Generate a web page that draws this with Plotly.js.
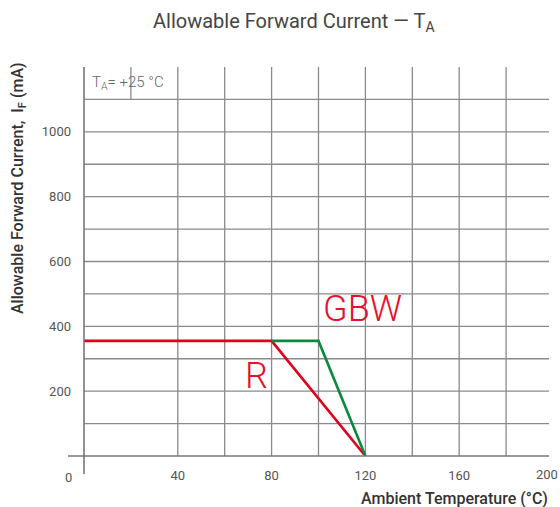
<!DOCTYPE html>
<html>
<head>
<meta charset="utf-8">
<script src="https://cdn.plot.ly/plotly-3.0.1.min.js"></script>
<style>html,body{margin:0;padding:0;background:#fff;}#chart{width:560px;height:507px;}</style>
</head>
<body>
<div id="chart"></div>
<script>
// Data
const tempR = [0, 80, 120];
const currR = [355, 355, 0];
const tempGBW = [80, 100, 120];
const currGBW = [355, 355, 0];
const xTickVals = [40, 80, 120, 160];
const xEdgeTick = 200;
const yTickVals = [200, 400, 600, 800, 1000];
const xGrid = [20, 40, 60, 80, 100, 120, 140, 160, 180];
const yGrid = [100, 200, 300, 400, 500, 600, 700, 800, 900, 1000, 1100];

const gridColor = '#8a8a8a';
const shapes = [];
xGrid.forEach(v => shapes.push({type:'line', xref:'x', yref:'y', x0:v, x1:v, y0:(v===20?1100:0), y1:1200, line:{color:gridColor, width:1.3}, layer:'below'}));
yGrid.forEach(v => shapes.push({type:'line', xref:'x', yref:'y', x0:0, x1:198.3, y0:v, y1:v, line:{color:gridColor, width:1.3}, layer:'below'}));
// axis lines (extend past the origin)
shapes.push({type:'line', xref:'paper', yref:'paper', x0:-0.0341, x1:0.9915, y0:0, y1:0, line:{color:'#777', width:1.6}});
shapes.push({type:'line', xref:'paper', yref:'paper', x0:0, x1:0, y0:-0.0463, y1:1, line:{color:'#777', width:1.6}});

const font = 'Roboto, "Open Sans", sans-serif';

const data = [
  {x: tempR, y: currR, type:'scatter', mode:'lines', line:{color:'#e2001a', width:2.6}, hoverinfo:'skip', showlegend:false, cliponaxis:false},
  {x: tempGBW, y: currGBW, type:'scatter', mode:'lines', line:{color:'#0a8a3e', width:2.6}, hoverinfo:'skip', showlegend:false, cliponaxis:false}
];

const layout = {
  width:560, height:507,
  margin:{l:84, r:7, t:67, b:51},
  paper_bgcolor:'#fff', plot_bgcolor:'#fff',
  font:{family:font, color:'#555'},
  showlegend:false,
  xaxis:{range:[0,200], showgrid:false, zeroline:false, showline:false, tickmode:'array', tickvals:xTickVals, ticktext:xTickVals.map(String), ticks:'', tickfont:{size:13, color:'#555', family:font}, ticklabelstandoff:10, fixedrange:true},
  yaxis:{range:[0,1200], showgrid:false, zeroline:false, showline:false, tickmode:'array', tickvals:yTickVals, ticktext:yTickVals.map(String), ticks:'', tickfont:{size:13, color:'#555', family:font}, ticklabelstandoff:12, fixedrange:true},
  shapes: shapes,
  annotations: [
    {xref:'paper', yref:'paper', x:(294-84)/469, y:(456-22)/389, text:'Allowable Forward Current — T<sub>A</sub>', showarrow:false, font:{size:20, color:'#444', family:font, weight:400}, xanchor:'center', yanchor:'middle'},
    {xref:'paper', yref:'paper', x:(18-84)/469, y:(456-188)/389, text:'Allowable Forward Current,  I<sub>F</sub> (mA)', textangle:-90, showarrow:false, font:{size:16, color:'#333', family:font, weight:500}, xanchor:'center', yanchor:'middle'},
    {xref:'paper', yref:'paper', x:(550-84)/469, y:(456-498)/389, text:'Ambient Temperature (°C)', showarrow:false, font:{size:16, color:'#333', family:font, weight:500}, xanchor:'right', yanchor:'middle'},
    {xref:'paper', yref:'paper', x:(68-84)/469, y:(456-477)/389, text:'0', showarrow:false, font:{size:13, color:'#555', family:font}, xanchor:'center', yanchor:'middle'},
    {xref:'paper', yref:'paper', x:(547-84)/469, y:(456-474)/389, text:String(xEdgeTick), showarrow:false, font:{size:13, color:'#555', family:font}, xanchor:'center', yanchor:'middle'},
    {xref:'x', yref:'y', x:2.5, y:1150, text:'T<sub>A</sub>= +25 °C', showarrow:false, font:{size:15, color:'#666', family:font, weight:300}, xanchor:'left', yanchor:'middle'},
    {xref:'paper', yref:'paper', x:(362-84)/469, y:(456-309)/389, text:'GBW', showarrow:false, font:{size:36, color:'#e8112d', family:font, weight:300}, xanchor:'center', yanchor:'middle'},
    {xref:'paper', yref:'paper', x:(256-84)/469, y:(456-376)/389, text:'R', showarrow:false, font:{size:36, color:'#e8112d', family:font, weight:300}, xanchor:'center', yanchor:'middle'}
  ]
};

Plotly.newPlot('chart', data, layout, {displayModeBar:false, staticPlot:true});
</script>
</body>
</html>
